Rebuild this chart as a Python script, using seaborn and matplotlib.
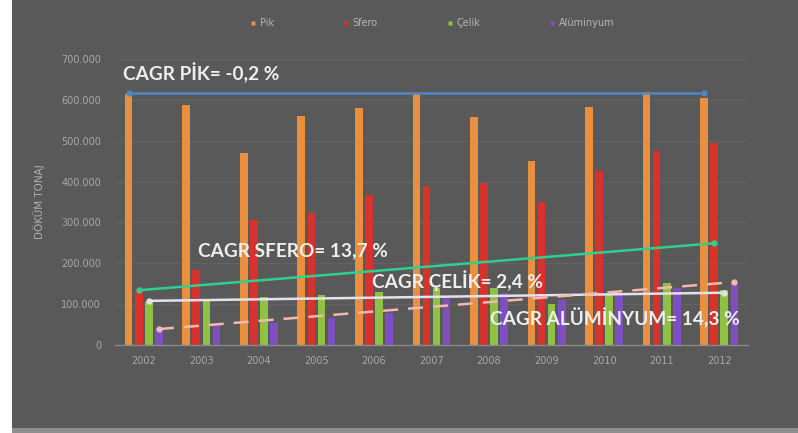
import matplotlib
matplotlib.use("Agg")
import matplotlib.pyplot as plt
from matplotlib.patches import Rectangle
from matplotlib.ticker import FuncFormatter
import numpy as np
import pandas as pd
import seaborn as sns

# Annual casting tonnage by material
years = ["2002", "2003", "2004", "2005", "2006", "2007", "2008", "2009", "2010", "2011", "2012"]
pik = [615000, 588000, 470000, 561000, 580000, 615000, 558000, 451000, 583000, 620000, 605000]
sfero = [134000, 183000, 305000, 324000, 366000, 390000, 397000, 349000, 427000, 476000, 495000]
celik = [105000, 110000, 117000, 122000, 129000, 139000, 139000, 100000, 122000, 151000, 134000]
aluminyum = [41000, 49000, 54000, 66000, 78000, 114000, 127000, 110000, 122000, 139000, 154000]

series_names = ["Pik", "Sfero", "Çelik", "Alüminyum"]
series_colors = ["#e98f3d", "#d8322d", "#8fc244", "#7d4fc0"]

# Growth lines: start (2002) and end (2012) levels per series
trend_start = [617000, 134000, 108000, 39000]
trend_end = [617000, 249000, 128000, 154000]
trend_colors = ["#4f86c6", "#2fd08f", "#e4e0ee", "#f2b9ae"]
trend_styles = ["-", "-", "-", (0, (6, 4))]
cagr_labels = ["CAGR PİK= -0,2 %", "CAGR SFERO= 13,7 %", "CAGR ÇELİK= 2,4 %", "CAGR ALÜMİNYUM= 14,3 %"]

df = pd.DataFrame({
    "Yıl": years * 4,
    "Seri": np.repeat(series_names, len(years)),
    "Ton": pik + sfero + celik + aluminyum,
})

W, H = 798, 433
BG = "#595959"
fig = plt.figure(figsize=(W / 100, H / 100), dpi=100, facecolor="white")
fig.patches.append(Rectangle((12 / W, 5 / H), 1 - 12 / W, 1 - 5 / H,
                             transform=fig.transFigure, facecolor=BG, edgecolor="none", zorder=-10))
fig.patches.append(Rectangle((12 / W, 0), 1 - 12 / W, 5 / H,
                             transform=fig.transFigure, facecolor="#8e8e8e", edgecolor="none", zorder=-10))

ax = fig.add_axes([115 / W, 88 / H, 633 / W, 286 / H])
ax.set_facecolor(BG)

sns.barplot(data=df, x="Yıl", y="Ton", hue="Seri", hue_order=series_names,
            palette=series_colors, width=0.7, gap=0.24, ax=ax, legend=False,
            saturation=1, edgecolor="none")

ax.set_xlim(-0.5, 10.5)
ax.set_ylim(0, 700000)
ax.set_yticks(np.arange(0, 700001, 100000))
ax.yaxis.set_major_formatter(FuncFormatter(lambda v, p: "0" if v == 0 else f"{int(v):,}".replace(",", ".")))
ax.grid(axis="y", color="#646464", linewidth=0.7)
ax.set_axisbelow(True)
for s in ["top", "right", "left"]:
    ax.spines[s].set_visible(False)
ax.spines["bottom"].set_color("#8a8a8a")
ax.spines["bottom"].set_linewidth(1.0)
ax.tick_params(axis="both", length=0, colors="#a8a8a8", labelsize=7, pad=8)
ax.tick_params(axis="y", pad=10)
ax.set_xlabel("")
ax.set_ylabel("DÖKÜM TONAJ", color="#b0b0b0", fontsize=7.5, labelpad=12)

# Growth lines drawn between the first and last bar of each series
offsets = [-0.2625, -0.0875, 0.0875, 0.2625]
for i in range(4):
    xs = [0 + offsets[i], 10 + offsets[i]]
    ys = [trend_start[i], trend_end[i]]
    ax.plot(xs, ys, color=trend_colors[i], linestyle=trend_styles[i], linewidth=1.8,
            marker="o", markersize=3.5, zorder=5, solid_capstyle="round")

# CAGR annotations
label_pos = [(123, 73), (198, 251), (372, 281), (490, 318)]
for (px, py), txt in zip(label_pos, cagr_labels):
    fig.text(px / W, 1 - py / H, txt, ha="left", va="center", color="#eeeeee",
             fontsize=13.7, fontweight="bold", family=["Lato", "DejaVu Sans"], zorder=10)

# Legend row above the plot
handles = [plt.Line2D([], [], marker="s", linestyle="none", markersize=3.5,
                      markerfacecolor=c, markeredgecolor="none") for c in series_colors]
leg = fig.legend(handles, series_names, loc="center", bbox_to_anchor=(432 / W, 1 - 23 / H),
                 ncol=4, frameon=False, fontsize=7, labelcolor="#b5b5b5",
                 handletextpad=0.3, columnspacing=7.0, handlelength=0.8)

fig.savefig("out.png", dpi=100, facecolor=fig.get_facecolor())
